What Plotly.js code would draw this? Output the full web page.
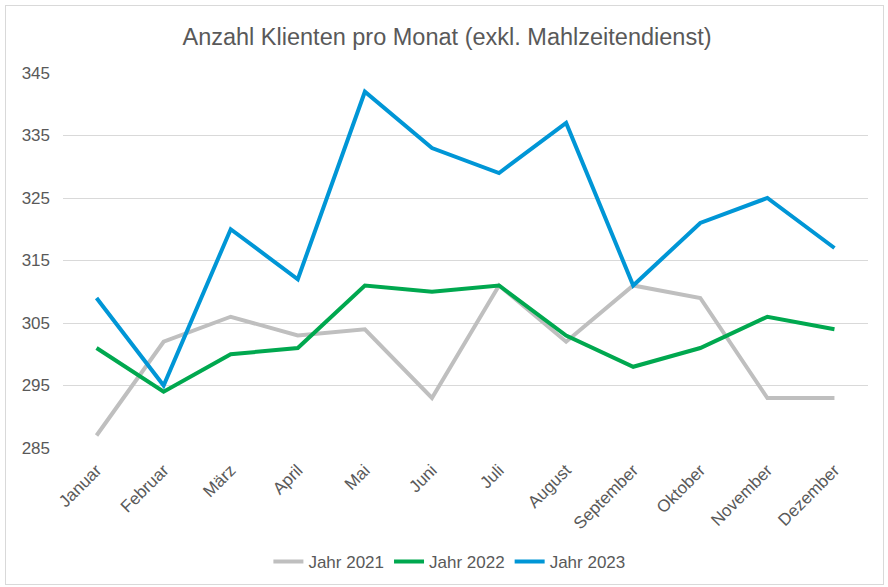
<!DOCTYPE html>
<html>
<head>
<meta charset="utf-8">
<script src="https://cdn.plot.ly/plotly-3.0.1.min.js"></script>
<style>
html,body{margin:0;padding:0;background:#fff;}
#wrap{position:relative;width:888px;height:587px;}
#chart{position:absolute;left:0;top:0;width:888px;height:587px;}
#frame{position:absolute;left:5px;top:5px;width:877px;height:578px;border:1px solid #d9d9d9;pointer-events:none;}
</style>
</head>
<body>
<div id="wrap"><div id="chart"></div><div id="frame"></div></div>
<script>
const months = ["Januar","Februar","März","April","Mai","Juni","Juli","August","September","Oktober","November","Dezember"];
const jahr2021 = [287,302,306,303,304,293,311,302,311,309,293,293];
const jahr2022 = [301,294,300,301,311,310,311,303,298,301,306,304];
const jahr2023 = [309,295,320,312,342,333,329,337,311,321,325,317];
const yTicks = [285,295,305,315,325,335,345];

const font = {family: "Liberation Sans, Arial, sans-serif", color: "#595959"};

const traces = [
  {x: months, y: jahr2021, name: "Jahr 2021", type: "scatter", mode: "lines", line: {color: "#bfbfbf", width: 4}},
  {x: months, y: jahr2022, name: "Jahr 2022", type: "scatter", mode: "lines", line: {color: "#00a84f", width: 4}},
  {x: months, y: jahr2023, name: "Jahr 2023", type: "scatter", mode: "lines", line: {color: "#0096d6", width: 4}}
];

const layout = {
  width: 888, height: 587,
  margin: {l: 63, r: 20, t: 73, b: 139, autoexpand: false},
  paper_bgcolor: "#fff", plot_bgcolor: "#fff",
  font: Object.assign({size: 17}, font),
  title: {text: "Anzahl Klienten pro Monat (exkl. Mahlzeitendienst)", font: Object.assign({}, font, {size: 23.5}), x: 0.477, xanchor: "center", xref: "paper", y: 1 - 37/587, yref: "container", yanchor: "middle"},
  xaxis: {type: "category", range: [-0.5, 11.5], tickangle: -45, showgrid: false, zeroline: false, showline: false, ticks: "", tickfont: Object.assign({}, font, {size: 17}), ticklabelstandoff: 8, automargin: false},
  yaxis: {range: [285, 345], tickvals: yTicks, ticktext: yTicks.map(String), showgrid: true, gridcolor: "#d9d9d9", gridwidth: 1, zeroline: false, showline: false, ticks: "", tickfont: Object.assign({}, font, {size: 17}), ticklabelstandoff: 12, automargin: false},
  showlegend: true,
  legend: {orientation: "h", x: 0.48, xanchor: "center", y: 1 - (562 - 73)/375, yanchor: "middle", font: Object.assign({}, font, {size: 17}), itemwidth: 30, tracegroupgap: 0}
};

Plotly.newPlot("chart", traces, layout, {displayModeBar: false, staticPlot: true});
</script>
</body>
</html>
